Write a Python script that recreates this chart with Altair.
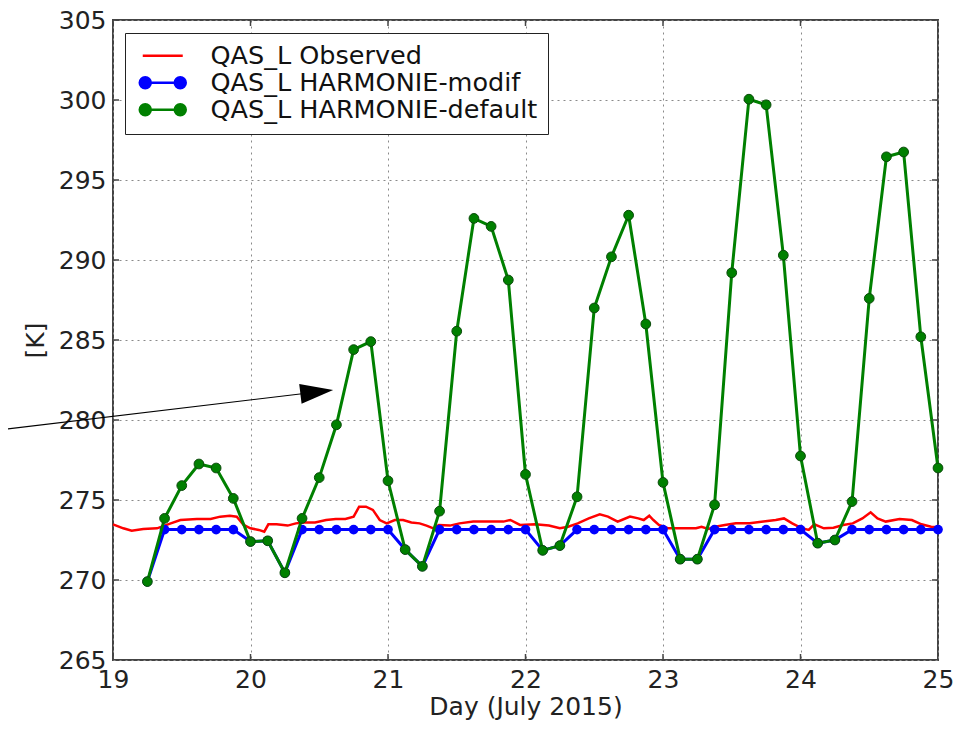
import altair as alt
import pandas as pd

FONT = "DejaVu Sans"

series_names = ["QAS_L Observed", "QAS_L HARMONIE-modif", "QAS_L HARMONIE-default"]
series_colors = ["#ff0000", "#0000ff", "#008000"]

x_ticks = [19, 20, 21, 22, 23, 24, 25]
y_ticks = [265, 270, 275, 280, 285, 290, 295, 300, 305]

# observed (red)
red_days = [19.0, 19.075, 19.136, 19.22, 19.32, 19.42, 19.49, 19.61, 19.71, 19.78,
            19.85, 19.90, 19.95, 20.0, 20.06, 20.10, 20.13, 20.19, 20.27, 20.33,
            20.39, 20.47, 20.55, 20.62, 20.69, 20.75, 20.79, 20.84, 20.89, 20.94,
            20.99, 21.05, 21.11, 21.17, 21.23, 21.28, 21.33, 21.37, 21.45, 21.52,
            21.62, 21.74, 21.84, 21.89, 21.96, 22.07, 22.17, 22.25, 22.31, 22.38,
            22.46, 22.54, 22.60, 22.67, 22.70, 22.76, 22.82, 22.86, 22.90, 22.93,
            22.97, 23.04, 23.11, 23.19, 23.24, 23.28, 23.33, 23.38, 23.45, 23.53,
            23.63, 23.73, 23.82, 23.88, 23.94, 24.01, 24.06, 24.10, 24.17, 24.24,
            24.31, 24.38, 24.45, 24.51, 24.56, 24.62, 24.72, 24.81, 24.88, 24.95,
            25.0]
red_vals = [273.48, 273.23, 273.08, 273.19, 273.23, 273.54, 273.75, 273.81, 273.81, 273.96,
            274.02, 273.96, 273.44, 273.23, 273.13, 273.02, 273.48, 273.48, 273.40, 273.54,
            273.60, 273.60, 273.75, 273.81, 273.81, 273.96, 274.58, 274.58, 274.38, 273.75,
            273.54, 273.75, 273.75, 273.60, 273.54, 273.40, 273.23, 273.44, 273.40, 273.54,
            273.65, 273.65, 273.65, 273.75, 273.44, 273.48, 273.40, 273.23, 273.33, 273.54,
            273.85, 274.10, 273.96, 273.65, 273.75, 273.96, 273.85, 273.75, 274.02, 273.75,
            273.44, 273.23, 273.23, 273.23, 273.23, 273.33, 273.19, 273.33, 273.44, 273.54,
            273.54, 273.65, 273.75, 273.85, 273.54, 273.23, 273.13, 273.48, 273.23, 273.27,
            273.44, 273.54, 273.85, 274.23, 273.85, 273.65, 273.81, 273.75, 273.48, 273.33,
            273.30]

# model output every 3 hours
model_days = [19.25, 19.375, 19.5, 19.625, 19.75, 19.875,
              20.0, 20.125, 20.25, 20.375, 20.5, 20.625, 20.75, 20.875,
              21.0, 21.125, 21.25, 21.375, 21.5, 21.625, 21.75, 21.875,
              22.0, 22.125, 22.25, 22.375, 22.5, 22.625, 22.75, 22.875,
              23.0, 23.125, 23.25, 23.375, 23.5, 23.625, 23.75, 23.875,
              24.0, 24.125, 24.25, 24.375, 24.5, 24.625, 24.75, 24.875, 25.0]
green_vals = [269.9, 273.85, 275.9, 277.25, 277.0, 275.1,
              272.4, 272.45, 270.45, 273.85, 276.4, 279.7, 284.4, 284.9,
              276.2, 271.9, 270.85, 274.3, 285.55, 292.6, 292.1, 288.75,
              276.6, 271.85, 272.15, 275.2, 287.0, 290.2, 292.8, 286.0,
              276.1, 271.3, 271.3, 274.7, 289.2, 300.05, 299.7, 290.3,
              277.75, 272.3, 272.5, 274.9, 287.6, 296.45, 296.75, 285.2, 277.0]
blue_vals = [269.9, 273.15, 273.15, 273.15, 273.15, 273.15,
             272.4, 272.45, 270.45, 273.15, 273.15, 273.15, 273.15, 273.15,
             273.15, 271.9, 270.85, 273.15, 273.15, 273.15, 273.15, 273.15,
             273.15, 271.85, 272.15, 273.15, 273.15, 273.15, 273.15, 273.15,
             273.15, 271.3, 271.3, 273.15, 273.15, 273.15, 273.15, 273.15,
             273.15, 272.3, 272.5, 273.15, 273.15, 273.15, 273.15, 273.15, 273.15]

# annotation arrow (data coordinates)
arrow_start = [18.234, 279.44]
arrow_head = [20.482, 281.75]

df_red = pd.DataFrame({"day": red_days, "val": red_vals})
df_blue = pd.DataFrame({"day": model_days, "val": blue_vals})
df_green = pd.DataFrame({"day": model_days, "val": green_vals})

xs = alt.Scale(domain=[19, 25], nice=False, zero=False)
ys = alt.Scale(domain=[265, 305], nice=False, zero=False)

x_axis = alt.Axis(values=x_ticks, grid=True, gridColor="#8a8a8a", gridDash=[2, 4], gridWidth=1,
                  ticks=False, tickSize=0, domain=False, labelFont=FONT, labelFontSize=25,
                  labelColor="#222", labelPadding=27, labelBaseline="alphabetic",
                  labelFlush=False, labelOverlap=False, format="d",
                  titleFont=FONT, titleFontSize=25, titleFontWeight="normal", titleColor="#222",
                  titleY=54, titleBaseline="alphabetic")
y_axis = alt.Axis(values=y_ticks, grid=True, gridColor="#8a8a8a", gridDash=[2, 4], gridWidth=1,
                  ticks=False, tickSize=0, domain=False, labelFont=FONT, labelFontSize=25,
                  labelColor="#222", labelPadding=7, labelFlush=False, labelOverlap=False, format="d",
                  titleFont=FONT, titleFontSize=25, titleFontWeight="normal", titleColor="#222",
                  titleX=-78, titleY=320, titleAngle=270, titleBaseline="middle", titleAlign="center")


def X(f):
    return alt.X(f"{f}:Q", scale=xs, axis=x_axis, title="Day (July 2015)")


def Y(f):
    return alt.Y(f"{f}:Q", scale=ys, axis=y_axis, title="[K]")


red_line = alt.Chart(df_red).mark_line(color=series_colors[0], strokeWidth=2.5).encode(x=X("day"), y=Y("val"))
blue_line = alt.Chart(df_blue).mark_line(color=series_colors[1], strokeWidth=3).encode(x=X("day"), y=Y("val"))
blue_pts = alt.Chart(df_blue).mark_circle(color=series_colors[1], size=95, opacity=1).encode(x=X("day"), y=Y("val"))
green_line = alt.Chart(df_green).mark_line(color=series_colors[2], strokeWidth=3).encode(x=X("day"), y=Y("val"))
green_pts = alt.Chart(df_green).mark_point(filled=True, fill=series_colors[2], stroke="#0a4a0a",
                                           strokeWidth=1, size=95, opacity=1).encode(x=X("day"), y=Y("val"))

# inward ticks on all four sides
df_xt = pd.DataFrame({"tx": x_ticks})
df_yt = pd.DataFrame({"ty": y_ticks})
tick_style = dict(color="#444", thickness=1.5, size=12, clip=True, opacity=1)
xt_bottom = alt.Chart(df_xt).mark_tick(orient="vertical", **tick_style).encode(x=X("tx"), y=alt.YDatum(265, scale=ys, axis=y_axis, title="[K]"))
xt_top = alt.Chart(df_xt).mark_tick(orient="vertical", **tick_style).encode(x=X("tx"), y=alt.YDatum(305, scale=ys, axis=y_axis, title="[K]"))
yt_left = alt.Chart(df_yt).mark_tick(orient="horizontal", **tick_style).encode(y=Y("ty"), x=alt.XDatum(19, scale=xs, axis=x_axis, title="Day (July 2015)"))
yt_right = alt.Chart(df_yt).mark_tick(orient="horizontal", **tick_style).encode(y=Y("ty"), x=alt.XDatum(25, scale=xs, axis=x_axis, title="Day (July 2015)"))

# legend-only layer (points placed off-domain and clipped)
# symbol unit = sqrt(400)/2 = 10 px; paths are shifted right and overflow the unit box on purpose
sym_line = "M-0.5,0L3.5,0"
sym_line_dots = ("M-0.5,0L3.5,0"
                 "M-0.8,0A0.55,0.55 0 1,0 0.3,0A0.55,0.55 0 1,0 -0.8,0Z"
                 "M2.7,0A0.55,0.55 0 1,0 3.8,0A0.55,0.55 0 1,0 2.7,0Z")
leg = alt.Legend(title=None, orient="none", legendX=12, legendY=13, padding=10,
                 strokeColor="#222", fillColor="white", labelFont=FONT, labelFontSize=25.5,
                 labelColor="#111", symbolSize=400, symbolStrokeWidth=2.5, rowPadding=-3,
                 labelOffset=50, labelLimit=600, symbolOpacity=1)
df_leg = pd.DataFrame({"series": series_names, "lx": [10, 10, 10], "ly": [200, 200, 200]})
legend_layer = alt.Chart(df_leg).mark_point(clip=True, filled=True, opacity=1).encode(
    x=X("lx"), y=Y("ly"),
    fill=alt.Fill("series:N", scale=alt.Scale(domain=series_names, range=series_colors), legend=leg),
    stroke=alt.Stroke("series:N", scale=alt.Scale(domain=series_names, range=series_colors), legend=leg),
    shape=alt.Shape("series:N", scale=alt.Scale(domain=series_names, range=[sym_line, sym_line_dots, sym_line_dots]), legend=leg),
)

# annotation arrow
df_arrow = pd.DataFrame({"ax": [arrow_start[0]], "ay": [arrow_start[1]],
                         "bx": [arrow_head[0]], "by": [arrow_head[1]]})
arrow_line = alt.Chart(df_arrow).mark_rule(color="black", strokeWidth=1.2).encode(
    x=X("ax"), y=Y("ay"), x2="bx:Q", y2="by:Q")
arrow_tip = alt.Chart(df_arrow).mark_point(shape="M-1,-0.6L1,0L-1,0.6Z", filled=True, color="black",
                                           size=1089, angle=353.2, opacity=1).encode(x=X("bx"), y=Y("by"))

chart = alt.layer(
    red_line, blue_line, blue_pts, green_line, green_pts,
    xt_bottom, xt_top, yt_left, yt_right,
    legend_layer, arrow_line, arrow_tip,
).properties(
    width=825, height=640,
    autosize=alt.AutoSizeParams(type="none"),
    padding={"left": 105, "top": 12, "right": 33, "bottom": 61},
    background="white",
).configure_view(stroke="#444", strokeWidth=2)

chart.save("out.html", embed_options={"renderer": "svg", "actions": False})
